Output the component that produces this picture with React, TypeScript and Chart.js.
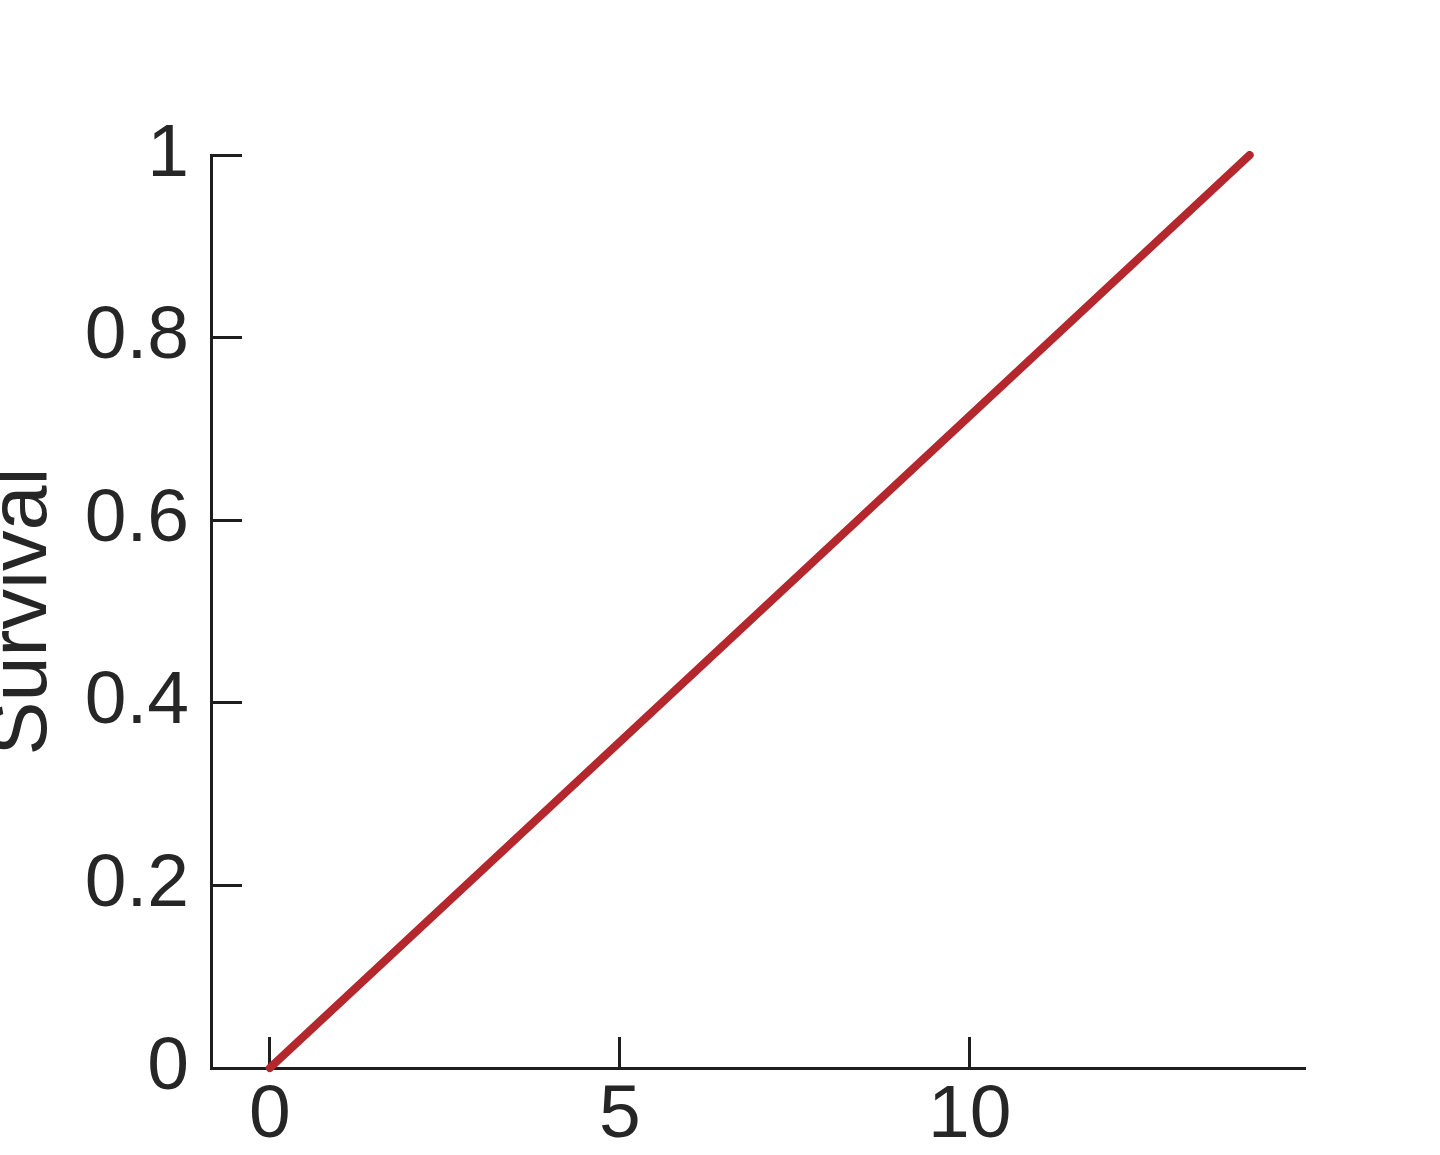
import { useEffect, useRef } from "react"
import { Chart, registerables } from "chart.js"

Chart.register(...registerables)

// survival grows linearly with time
const timeValues = [0, 14]
const survivalValues = [0, 1]
const xTickValues = [0, 5, 10]
const yTickValues = [0, 0.2, 0.4, 0.6, 0.8, 1]

const axisColor = "#1e1e1e"
const textColor = "#262626"
const lineColor = "#b3272d"
const fontFamily = "'Liberation Sans', Arial, sans-serif"

export default function App() {
  const canvasRef = useRef<HTMLCanvasElement>(null)
  const chartRef = useRef<Chart | null>(null)

  useEffect(() => {
    if (!canvasRef.current) return
    if (chartRef.current) chartRef.current.destroy()

    chartRef.current = new Chart(canvasRef.current, {
      type: "line",
      data: {
        datasets: [
          {
            data: timeValues.map((t, i) => ({ x: t, y: survivalValues[i] })),
            borderColor: lineColor,
            borderWidth: 8,
            borderCapStyle: "round",
            pointRadius: 0,
            tension: 0,
            fill: false,
            clip: false as any,
          },
        ],
      },
      options: {
        animation: false,
        responsive: true,
        maintainAspectRatio: false,
        layout: { padding: { left: 0, top: 155, right: 135, bottom: 0 } },
        plugins: {
          legend: { display: false },
          tooltip: { enabled: false },
        },
        scales: {
          x: {
            type: "linear",
            min: -0.84,
            max: 14.79,
            afterBuildTicks: (scale: any) => {
              scale.ticks = xTickValues.map((v) => ({ value: v }))
            },
            afterFit: (scale: any) => {
              scale.height = 87
              scale.paddingLeft = 0
              scale.paddingRight = 0
            },
            grid: {
              display: true,
              drawOnChartArea: false,
              drawTicks: true,
              tickLength: -31,
              tickWidth: 3,
              tickColor: axisColor,
            },
            border: { display: true, color: axisColor, width: 3 },
            ticks: {
              color: textColor,
              padding: 34,
              maxRotation: 0,
              autoSkip: false,
              font: { family: fontFamily, size: 75 },
              callback: (v: any) => String(v),
            },
          },
          y: {
            type: "linear",
            min: 0,
            max: 1,
            afterBuildTicks: (scale: any) => {
              scale.ticks = yTickValues.map((v) => ({ value: v }))
            },
            afterFit: (scale: any) => {
              scale.width = 251
              scale.paddingTop = 0
              scale.paddingBottom = 0
            },
            grid: {
              display: true,
              drawOnChartArea: false,
              drawTicks: true,
              tickLength: -31,
              tickWidth: 3,
              tickColor: axisColor,
            },
            border: { display: true, color: axisColor, width: 3 },
            ticks: {
              color: textColor,
              padding: 53,
              autoSkip: false,
              font: { family: fontFamily, size: 75 },
              callback: (v: any) => String(Math.round(Number(v) * 10) / 10),
            },
            title: {
              display: true,
              text: "Survival",
              color: textColor,
              padding: { top: 15, bottom: 0 },
              font: { family: fontFamily, size: 81 },
            },
          },
        },
      },
    })

    return () => {
      if (chartRef.current) {
        chartRef.current.destroy()
        chartRef.current = null
      }
    }
  }, [])

  return (
    <div
      style={{
        position: "absolute",
        left: -40,
        top: 0,
        width: 1480,
        height: 1155,
        background: "#ffffff",
      }}
    >
      <canvas ref={canvasRef} />
    </div>
  )
}
